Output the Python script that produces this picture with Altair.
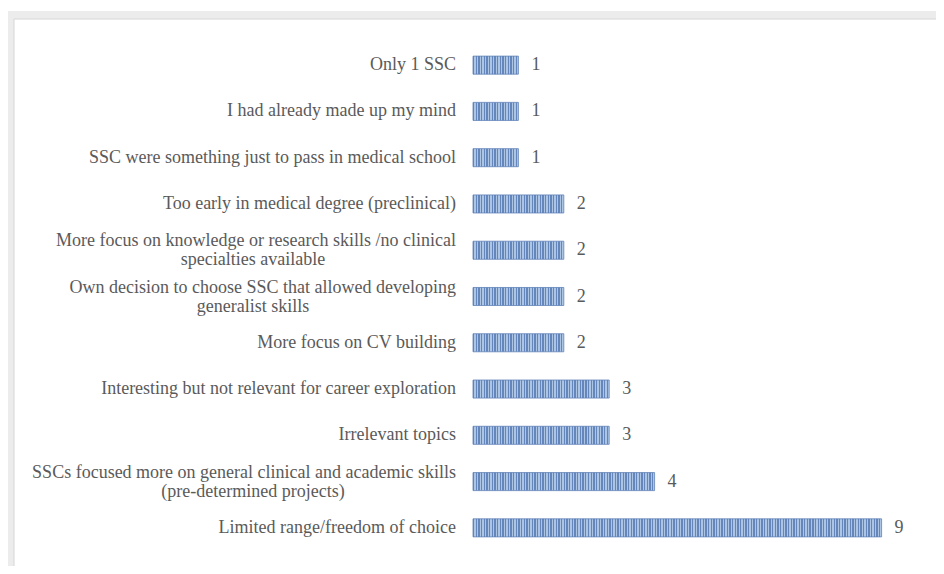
import altair as alt
import pandas as pd

line1 = [
    "Only 1 SSC",
    "I had already made up my mind",
    "SSC were something just to pass in medical school",
    "Too early in medical degree (preclinical)",
    "More focus on knowledge or research skills /no clinical",
    "Own decision to choose SSC that allowed developing",
    "More focus on CV building",
    "Interesting but not relevant for career exploration",
    "Irrelevant topics",
    "SSCs focused more on general clinical and academic skills",
    "Limited range/freedom of choice",
]
line2 = [
    "", "", "", "",
    "specialties available",
    "generalist skills",
    "", "", "",
    "(pre-determined projects)",
    "",
]
values = [1, 1, 1, 2, 2, 2, 2, 3, 3, 4, 9]

df = pd.DataFrame({"line1": line1, "line2": line2, "value": values})
df["cat"] = [a + (" " + b if b else "") for a, b in zip(line1, line2)]
df["wrapped"] = [1 if b else 0 for b in line2]
order = list(df["cat"])

FONT = "Liberation Serif"
TXT = "#5a5a5a"
DARK = "#6486bb"
LIGHT = "#adc5e5"
STRIPES_PER_UNIT = 17

y_enc = alt.Y(
    "cat:N", sort=order,
    scale=alt.Scale(paddingInner=0.61, paddingOuter=0.305),
    axis=alt.Axis(labels=False, ticks=False, title=None, grid=False,
                  domainColor="#a6a6a6", domainWidth=2),
)
x_enc = alt.X("value:Q", scale=alt.Scale(domain=[0, 10]), axis=None)

base = alt.Chart(df)


def stripes(v):
    n = max(1, int(round(v * STRIPES_PER_UNIT)))
    stops = []
    for i in range(n):
        a, m, b = i / n, (i + 0.5) / n, (i + 1) / n
        stops += [
            alt.GradientStop(offset=a, color=DARK),
            alt.GradientStop(offset=m, color=DARK),
            alt.GradientStop(offset=m, color=LIGHT),
            alt.GradientStop(offset=b, color=LIGHT),
        ]
    return alt.Gradient(gradient="linear", stops=stops, x1=0, x2=1, y1=0, y2=0)


one = alt.Data(values=[{"k": 1}])
frame_outer = alt.Chart(one).mark_rect(color="#ececec").encode(
    x=alt.value(-467), x2=alt.value(480), y=alt.value(-31), y2=alt.value(560)
)
frame_inner = alt.Chart(one).mark_rect(
    color="white", stroke="#d6d6d6", strokeWidth=1
).encode(
    x=alt.value(-459), x2=alt.value(480), y=alt.value(-23), y2=alt.value(560)
)

bar_layers = []
for v in sorted(set(values)):
    bar_layers.append(
        base.transform_filter(alt.datum.value == v)
        .mark_bar(color=stripes(v), stroke="#5f82b8", strokeWidth=0.8)
        .encode(x=x_enc, y=y_enc)
    )

value_text = base.mark_text(
    align="left", baseline="middle", dx=13, font=FONT, fontSize=18, color=TXT
).encode(x=x_enc, y=y_enc, text="value:Q")

single_lbl = base.transform_filter(alt.datum.wrapped == 0).mark_text(
    align="right", baseline="middle", font=FONT, fontSize=18, color=TXT
).encode(x=alt.value(-17), y=y_enc, text="line1:N")

wrap_first = base.transform_filter(alt.datum.wrapped == 1).mark_text(
    align="right", baseline="middle", dy=-9, font=FONT, fontSize=18, color=TXT
).encode(x=alt.value(-17), y=y_enc, text="line1:N")

wrap_second = base.transform_filter(alt.datum.wrapped == 1).mark_text(
    align="center", baseline="middle", dy=10, font=FONT, fontSize=18, color=TXT
).encode(x=alt.value(-220), y=y_enc, text="line2:N")

chart = alt.layer(
    frame_outer, frame_inner, *bar_layers, value_text, single_lbl, wrap_first, wrap_second
).properties(
    width=454, height=509,
    padding={"left": 465, "top": 34, "right": 9, "bottom": 15},
    autosize=alt.AutoSizeParams(type="none"),
    background="white",
).configure_view(stroke=None)

chart.save("out.html", embed_options={"renderer": "svg", "actions": False})
